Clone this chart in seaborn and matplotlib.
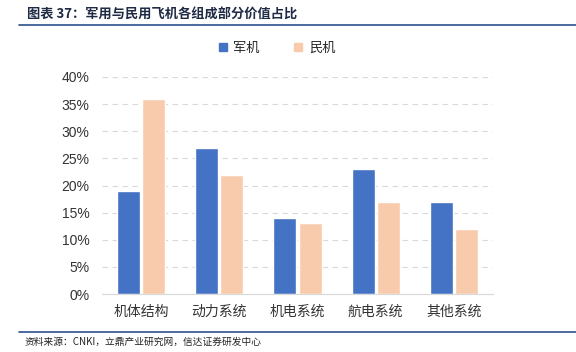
import matplotlib
matplotlib.use('Agg')
import matplotlib.pyplot as plt
import seaborn as sns
import pandas as pd
from matplotlib.patches import Patch

# 데이터
categories = ['机体结构', '动力系统', '机电系统', '航电系统', '其他系统']
military = [19, 27, 14, 23, 17]
civil = [36, 22, 13, 17, 12]
series_names = ['军机', '民机']
yticks = [0, 5, 10, 15, 20, 25, 30, 35, 40]

df = pd.DataFrame({
    'cat': categories * 2,
    'val': military + civil,
    'type': [series_names[0]] * 5 + [series_names[1]] * 5,
})

sns.set_style('white')
plt.rcParams['font.family'] = ['Noto Sans CJK SC', 'DejaVu Sans']

fig = plt.figure(figsize=(5.76, 3.52), dpi=100)
ax = fig.add_axes([102 / 576, 1 - 294 / 352, 391 / 576, 217 / 352])

sns.barplot(data=df, x='cat', y='val', hue='type',
            palette=['#4472C4', '#F8CBAD'], saturation=1, width=0.64, gap=0.08,
            ax=ax, legend=False)

ax.set_ylim(0, 40)
ax.set_yticks(yticks)
ax.set_yticklabels([f'{t}%' for t in yticks], fontsize=10, color='#333333',
                   family=['Liberation Sans', 'DejaVu Sans'])
ax.tick_params(axis='x', labelsize=10, colors='#333333', length=0, pad=8)
ax.tick_params(axis='y', length=0, pad=9)
ax.set_xlabel('')
ax.set_ylabel('')
ax.set_xlim(-0.5, 4.5)
ax.yaxis.grid(True, linestyle=(0, (5, 4)), color='#D9D9D9', linewidth=0.8)
ax.set_axisbelow(True)
for s in ['top', 'right', 'left']:
    ax.spines[s].set_visible(False)
ax.spines['bottom'].set_color('#D9D9D9')

# 범례
handles = [Patch(color='#4472C4'), Patch(color='#F8CBAD')]
fig.legend(handles, series_names, loc='center', bbox_to_anchor=(277 / 576, 1 - 48 / 352),
           ncol=2, frameon=False, fontsize=9.5, handlelength=0.6, handleheight=0.6,
           columnspacing=2.6, handletextpad=0.5)

# 제목, 출처
fig.text(27 / 576, 1 - 15 / 352, '图表 37：军用与民用飞机各组成部分价值占比', fontsize=9.5,
         fontweight='bold', color='#1F2A44', va='center')
fig.add_artist(plt.Line2D([19 / 576, 1.0], [1 - 25 / 352] * 2, color='#2F4F8F', linewidth=1.2))
fig.add_artist(plt.Line2D([19 / 576, 1.0], [1 - 332 / 352] * 2, color='#2F4F8F', linewidth=1.2))
fig.text(25 / 576, 1 - 342 / 352, '资料来源：CNKI，立鼎产业研究网，信达证券研发中心', fontsize=7,
         style='italic', color='#222222', va='center')

fig.savefig('out.png', dpi=100)
